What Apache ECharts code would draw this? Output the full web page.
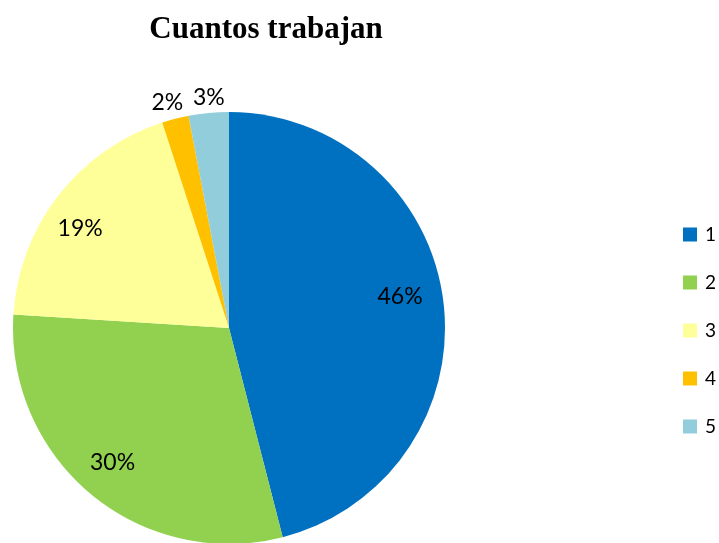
<!DOCTYPE html>
<html>
<head>
<meta charset="utf-8">
<script src="https://cdn.jsdelivr.net/npm/echarts@6/dist/echarts.min.js"></script>
<style>
  html, body { margin: 0; padding: 0; background: #fff; }
  #chart { width: 719px; height: 543px; }
</style>
</head>
<body>
<div id="chart"></div>
<script>
const categories = ["1", "2", "3", "4", "5"];
const values = [46, 30, 19, 2, 3];
const colors = ["#0070C0", "#92D050", "#FFFF99", "#FFC000", "#92CDDC"];
const insideLabels = [true, true, true, false, false];
// small nudges so labels sit where Excel put them
const labelNudge = [[-7, -9], [-2, -4], [-7, 11], [-3, 3], [2, 5]];

const center = [229, 328];
const font = "Lato, 'Open Sans', sans-serif";

const pieData = categories.map((name, i) => ({
  name,
  value: values[i],
  itemStyle: { color: colors[i] },
}));

// transparent rings only used to place the labels at the right distance
const innerLabelData = categories.map((name, i) => ({
  name,
  value: values[i],
  itemStyle: { color: "rgba(0,0,0,0)" },
  label: { show: insideLabels[i], offset: labelNudge[i] },
}));
const outerLabelData = categories.map((name, i) => ({
  name,
  value: values[i],
  itemStyle: { color: "rgba(0,0,0,0)" },
  label: { show: !insideLabels[i], offset: labelNudge[i] },
}));

const labelStyle = {
  position: "inside",
  formatter: "{d}%",
  fontFamily: font,
  fontSize: 23,
  color: "#000",
};

function labelRing(radius, data) {
  return {
    type: "pie",
    center,
    radius,
    startAngle: 90,
    clockwise: true,
    silent: true,
    legendHoverLink: false,
    data,
    label: labelStyle,
    labelLine: { show: false },
    emphasis: { disabled: true },
  };
}

const chart = echarts.init(document.getElementById("chart"));
chart.setOption({
  animation: false,
  title: {
    text: "Cuantos trabajan",
    left: 261,
    textAlign: "center",
    top: 9,
    textStyle: {
      fontFamily: "'Liberation Serif', serif",
      fontWeight: "bold",
      fontSize: 31,
      color: "#000",
    },
  },
  legend: {
    orient: "vertical",
    left: 678,
    top: 220,
    itemWidth: 14,
    itemHeight: 14,
    itemGap: 29,
    icon: "rect",
    data: categories,
    textStyle: {
      fontFamily: font,
      fontSize: 19,
      color: "#000",
      padding: [0, 0, 0, 3],
    },
  },
  series: [
    {
      type: "pie",
      center,
      radius: 216,
      startAngle: 90,
      clockwise: true,
      data: pieData,
      itemStyle: { borderWidth: 0 },
      label: { show: false },
      labelLine: { show: false },
      emphasis: { disabled: true },
    },
    labelRing([137, 216], innerLabelData),
    labelRing([220, 246], outerLabelData),
  ],
});
</script>
</body>
</html>
